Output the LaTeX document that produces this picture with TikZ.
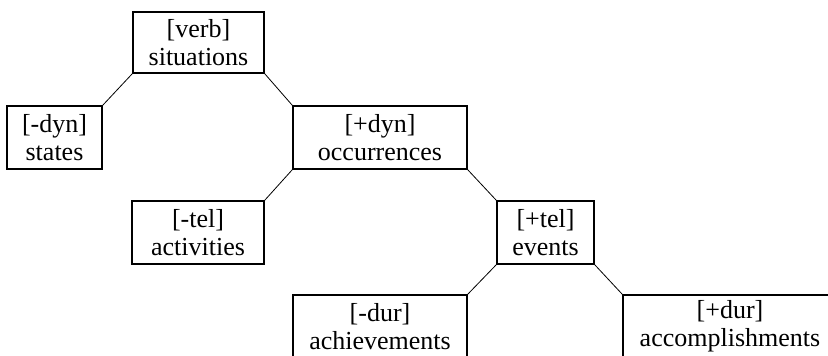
\documentclass[tikz,border=0pt]{standalone}
\usepackage{fontspec}
\setmainfont{Liberation Serif}
\usetikzlibrary{positioning}

\begin{document}
\begin{tikzpicture}[x=1pt, y=-1pt,
      feat/.style={draw, line width=1.6pt, align=center, inner sep=0pt,
         minimum height=63pt, font=\fontsize{26}{28}\selectfont},
      link/.style={line width=0.8pt}]
      \useasboundingbox (0,0) rectangle (828,356);
      % Root
      \node[feat, minimum width=131pt, minimum height=61pt] (verb) at (198.5,42.5) {[verb]\\situations};
      % Level 1
      \node[feat, minimum width=95pt] (states) at (54.5,137.5) {[-dyn]\\states};
      \node[feat, minimum width=174pt] (occ) at (380,137.5) {[+dyn]\\occurrences};
      % Level 2
      \node[feat, minimum width=132pt] (act) at (198,232.5) {[-tel]\\activities};
      \node[feat, minimum width=97pt] (events) at (545.5,232.5) {[+tel]\\events};
      % Level 3
      \node[feat, minimum width=174pt] (ach) at (380,326.5) {[-dur]\\achievements};
      \node[feat, minimum width=214pt] (acc) at (730,326.5) {[+dur]\\accomplishments};
      % Branches
      \draw[link] (verb.south west) -- (states.north east);
      \draw[link] (verb.south east) -- (occ.north west);
      \draw[link] (occ.south west) -- (act.north east);
      \draw[link] (occ.south east) -- (events.north west);
      \draw[link] (events.south west) -- (ach.north east);
      \draw[link] (events.south east) -- (acc.north west);
   \end{tikzpicture}
\end{document}
